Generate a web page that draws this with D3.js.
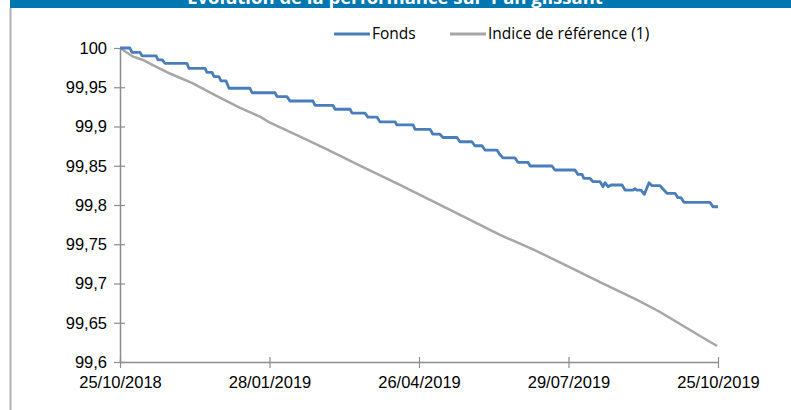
<!DOCTYPE html>
<html>
<head>
<meta charset="utf-8">
<script src="https://cdn.jsdelivr.net/npm/d3@7/dist/d3.min.js"></script>
<style>
  body { margin: 0; background: #fff; }
  svg { display: block; font-family: "Open Sans", sans-serif; }
</style>
</head>
<body>
<div id="chart"></div>
<script>
// Axe X : index de jour ouvré (0..260), libellés aux repères
const tickJours  = [0, 65, 130, 195, 260];
const tickDates  = ['25/10/2018', '28/01/2019', '26/04/2019', '29/07/2019', '25/10/2019'];
const tickValeurs = [99.6, 99.65, 99.7, 99.75, 99.8, 99.85, 99.9, 99.95, 100];

// Fonds : paliers
const fondsJours = [0, 4.3, 5.2, 8.7, 9.6, 15.7, 16.5, 18.3, 19.6, 29.1, 30, 37, 37.8, 40, 40.9, 43,
  43.9, 46.1, 47.4, 56.5, 57.4, 67.4, 68.3, 72.6, 73.9, 83.9, 84.8, 92.6, 93.5, 100, 100.9, 106.5,
  107.8, 111.7, 113, 119.6, 120.4, 127.4, 128.3, 134.8, 136, 139, 140.4, 146.5, 147.8, 153,
  154.3, 157.4, 158.7, 163.9, 165, 166.5, 171.7, 173, 177.4, 178.3, 187.8, 189.1, 197.8,
  199.1, 200.9, 201.7, 204.3, 205.7, 208.7, 210, 210.9, 212.2, 213.5, 218.3, 219.6, 223,
  223.9, 224.8, 226.5, 228, 230, 231.3, 234.8, 237.8, 241.3, 242.6, 243.9, 245.2, 256.5, 257.8, 260];
const fondsValeurs = [100, 100, 99.9945, 99.9945, 99.990, 99.990, 99.985, 99.985, 99.9805, 99.9805,
  99.974, 99.974, 99.969, 99.969, 99.9635, 99.9635, 99.958, 99.958, 99.9487, 99.9487, 99.943, 99.943,
  99.938, 99.938, 99.9325, 99.9325, 99.927, 99.927, 99.922, 99.922, 99.917, 99.917, 99.912, 99.912,
  99.906, 99.906, 99.902, 99.902, 99.8964, 99.8964, 99.8904, 99.8904, 99.886, 99.886, 99.8806, 99.8806,
  99.8755, 99.8755, 99.870, 99.870, 99.865, 99.860, 99.860, 99.8544, 99.8544, 99.8497, 99.8497,
  99.8446, 99.8446, 99.839, 99.839, 99.834, 99.834, 99.8297, 99.8297, 99.8233, 99.8284, 99.8233,
  99.8255, 99.8255, 99.819, 99.819, 99.8208, 99.819, 99.819, 99.8136, 99.8284, 99.8246, 99.8246,
  99.8149, 99.8149, 99.8093, 99.8093, 99.8034, 99.8034, 99.7978, 99.7978];

// Indice de référence (1)
const indiceJours   = [0, 5.7, 10, 14.3, 21.7, 31.7, 41.3, 52.2, 60.9, 65.2, 78.3, 90, 104.3, 121.7,
  134.8, 150.9, 165.2, 179.6, 195.7, 208.7, 224.8, 234.8, 243.5, 252.2, 259.6];
const indiceValeurs = [100, 99.9889, 99.9847, 99.9783, 99.9675, 99.955, 99.9401, 99.9236, 99.9125,
  99.9048, 99.887, 99.871, 99.8503, 99.8255, 99.8064, 99.783, 99.7618, 99.7436, 99.7204, 99.7019,
  99.679, 99.6637, 99.6484, 99.6331, 99.6204];

const W = 791, H = 410;
const margin = { left: 120, right: 73, top: 48, bottom: 48 };

const svg = d3.select('#chart').append('svg')
  .attr('width', W).attr('height', H);

// bandeau de titre (coupé en haut)
svg.append('rect').attr('x', 10).attr('y', 0).attr('width', W - 10).attr('height', 8)
  .attr('fill', '#0077b0');
svg.append('text')
  .attr('x', 395).attr('y', 4)
  .attr('text-anchor', 'middle')
  .attr('fill', '#fff')
  .style('font-weight', 'bold')
  .style('font-size', '18.5px')
  .text('Evolution de la performance sur 1 an glissant');
svg.append('line').attr('x1', 10.5).attr('x2', 10.5).attr('y1', 8).attr('y2', H)
  .attr('stroke', '#b0b0b0').attr('stroke-width', 2);

const x = d3.scaleLinear().domain([0, 260]).range([margin.left, W - margin.right]);
const y = d3.scaleLinear().domain([99.6, 100]).range([H - margin.bottom, margin.top]);

const axisColor = '#8c8c8c';

// axe Y
const yAxis = svg.append('g')
  .attr('transform', `translate(${margin.left},0)`)
  .call(d3.axisLeft(y).tickValues(tickValeurs).tickSize(0)
    .tickFormat(d => d3.format('~g')(d).replace('.', ',')));
yAxis.select('.domain').attr('stroke', axisColor).attr('stroke-width', 1.5);
yAxis.selectAll('.tick').append('line')
  .attr('x1', -6).attr('x2', 5).attr('stroke', axisColor).attr('stroke-width', 1.2);
yAxis.selectAll('.tick text').attr('x', -13)
  .style('font-size', '16.5px').attr('fill', '#000');

// axe X
const xAxis = svg.append('g')
  .attr('transform', `translate(0,${H - margin.bottom})`)
  .call(d3.axisBottom(x).tickValues(tickJours).tickSize(0)
    .tickFormat((d, i) => tickDates[i]));
xAxis.select('.domain').attr('stroke', axisColor).attr('stroke-width', 1.5);
xAxis.selectAll('.tick').append('line')
  .attr('y1', -5).attr('y2', 6).attr('stroke', axisColor).attr('stroke-width', 1.2);
xAxis.selectAll('.tick text').attr('y', 14)
  .style('font-size', '16.5px').attr('fill', '#000');

const line = d3.line().x(d => x(d[0])).y(d => y(d[1]));

const indice = d3.zip(indiceJours, indiceValeurs);
const fonds  = d3.zip(fondsJours, fondsValeurs);

svg.append('path').datum(indice)
  .attr('d', line).attr('fill', 'none')
  .attr('stroke', '#a6a6a6').attr('stroke-width', 2.5);

svg.append('path').datum(fonds)
  .attr('d', line).attr('fill', 'none')
  .attr('stroke', '#4a7ebb').attr('stroke-width', 2.8)
  .attr('stroke-linejoin', 'round');

// légende
const legend = [
  { name: 'Fonds', color: '#4a7ebb', x: 334 },
  { name: 'Indice de référence (1)', color: '#a6a6a6', x: 450 }
];
const lg = svg.append('g');
legend.forEach(l => {
  lg.append('line').attr('x1', l.x).attr('x2', l.x + 36).attr('y1', 34).attr('y2', 34)
    .attr('stroke', l.color).attr('stroke-width', 2.8);
  lg.append('text').attr('x', l.x + 38).attr('y', 34).attr('dy', '0.35em')
    .style('font-size', '15.5px').text(l.name);
});
</script>
</body>
</html>
